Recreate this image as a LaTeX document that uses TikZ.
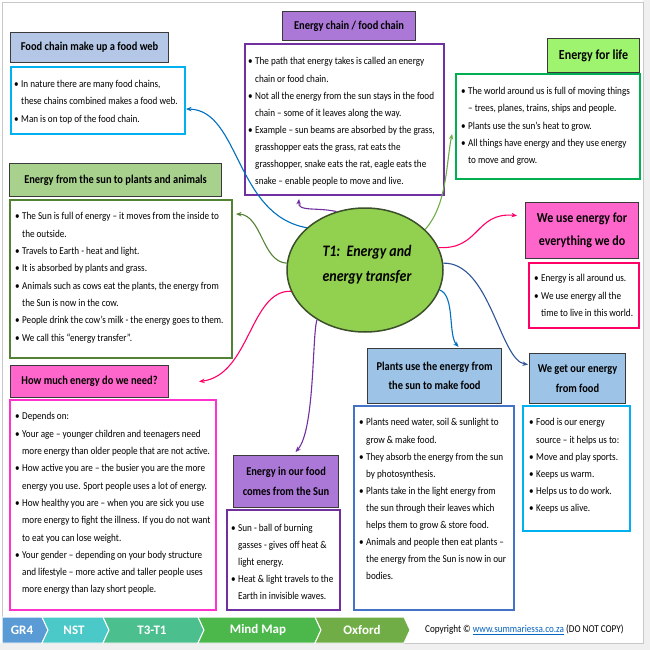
\documentclass[tikz,border=0pt]{standalone}
\usepackage{fontspec}
\setmainfont{Carlito}[FakeStretch=0.87]
\newfontfamily\footfont{Carlito}
\usetikzlibrary{arrows.meta,shapes.geometric}
\definecolor{hdrline}{HTML}{3A3A3A}
\definecolor{hblue}{HTML}{B4C7E7}
\definecolor{hblue2}{HTML}{9DC3E6}
\definecolor{hpurple}{HTML}{AC78D8}
\definecolor{hlgreen}{HTML}{9EF46E}
\definecolor{hgreen}{HTML}{A9D18E}
\definecolor{hpink}{HTML}{FF66CC}
\definecolor{cyanline}{HTML}{00B0F0}
\definecolor{purpleline}{HTML}{7030A0}
\definecolor{greenline}{HTML}{00B050}
\definecolor{dgreenline}{HTML}{548235}
\definecolor{redline}{HTML}{FF0066}
\definecolor{magline}{HTML}{FF33CC}
\definecolor{bluebox}{HTML}{4472C4}
\definecolor{cblue}{HTML}{0070C0}
\definecolor{cdblue}{HTML}{2F5597}
\definecolor{clgreen}{HTML}{70AD47}
\definecolor{elfill}{HTML}{92D050}
\definecolor{elline}{HTML}{3B4F2A}
\definecolor{fgr}{HTML}{5B9BD5}
\definecolor{fnst}{HTML}{4BC8C8}
\definecolor{ftt}{HTML}{4CBF8E}
\definecolor{fmm}{HTML}{4CB84C}
\definecolor{fox}{HTML}{70AD47}
\definecolor{framegray}{HTML}{C8C8C8}
\definecolor{stripgray}{HTML}{F0F0F0}
\definecolor{linkblue}{HTML}{0563C1}
\newlength\bind
\setlength\bind{7pt}
\newcommand\bul{\makebox[\bind][l]{\textbullet}}
\newcommand\cnt{\hspace*{\bind}}
\tikzset{
  hdr/.style={draw=hdrline, line width=1.1pt, anchor=north west, inner sep=0pt, align=center, font=\bfseries\fontsize{12}{14.5}\selectfont},
  bodybox/.style={line width=2pt, anchor=north west, inner sep=0pt, fill=white},
  txt/.style={anchor=north west, inner sep=0pt, align=left, font=\fontsize{10.5}{17.3}\selectfont},
  conn/.style={line width=1.1pt, -{Stealth[length=5.5pt,width=4.5pt]}},
  chev/.style={draw=white, line width=1pt},
  chevtxt/.style={text=white, inner sep=0pt, font=\footfont\bfseries\fontsize{13}{15}\selectfont}
}
\begin{document}
\begin{tikzpicture}[x=1pt,y=-1pt]
\useasboundingbox (0,0) rectangle (650,650);
\fill[white] (0,0) rectangle (650,650);
\fill[stripgray] (643,0) rectangle (650,650);
\fill[stripgray] (0,643) rectangle (650,650);
\draw[framegray, line width=0.8pt] (2.5,2.5) rectangle (643,643);

% ---------- headers ----------
\node[hdr, fill=hblue, minimum width=158pt, minimum height=30pt] (h1) at (10,32) {Food chain make up a food web};
\node[hdr, fill=hpurple, minimum width=133pt, minimum height=29pt] (h2) at (282,11) {Energy chain / food chain};
\node[hdr, fill=hlgreen, minimum width=92pt, minimum height=34pt, font=\bfseries\fontsize{13.8}{16}\selectfont] (h3) at (547,38) {Energy for life};
\node[hdr, fill=hgreen, minimum width=212pt, minimum height=33pt] (h4) at (9,163) {Energy from the sun to plants and animals};
\node[hdr, fill=hpink, minimum width=113pt, minimum height=56pt, font=\bfseries\fontsize{13.8}{23}\selectfont] (h6) at (525,202) {We use energy for\\everything we do};
\node[hdr, fill=hpink, minimum width=158pt, minimum height=32pt] (h7) at (10,365) {How much energy do we need?};
\node[hdr, fill=hpurple, minimum width=105pt, minimum height=52pt, font=\bfseries\fontsize{12}{20}\selectfont] (h8) at (233,455) {Energy in our food\\comes from the Sun};
\node[hdr, fill=hblue2, minimum width=134pt, minimum height=55pt, font=\bfseries\fontsize{12}{19}\selectfont] (h9) at (367,348) {Plants use the energy from\\the sun to make food};
\node[hdr, fill=hblue2, minimum width=96pt, minimum height=50pt, font=\bfseries\fontsize{12}{20}\selectfont] (h10) at (529,353) {We get our energy\\from food};

% ---------- body boxes ----------
\node[bodybox, draw=cyanline, minimum width=174pt, minimum height=67pt] (b1) at (10,66) {};
\node[bodybox, draw=purpleline, minimum width=199pt, minimum height=151pt] (b2) at (244,43) {};
\node[bodybox, draw=greenline, minimum width=184pt, minimum height=105pt] (b3) at (455,73) {};
\node[bodybox, draw=dgreenline, minimum width=222pt, minimum height=158pt] (b4) at (9,199) {};
\node[bodybox, draw=redline, minimum width=110pt, minimum height=65pt] (b6) at (528,262) {};
\node[bodybox, draw=magline, minimum width=206pt, minimum height=210pt] (b7) at (9,399) {};
\node[bodybox, draw=purpleline, minimum width=113pt, minimum height=100pt] (b8) at (226,509) {};
\node[bodybox, draw=bluebox, minimum width=160pt, minimum height=204pt] (b9) at (353,405) {};
\node[bodybox, draw=cyanline, minimum width=107pt, minimum height=125pt] (b10) at (522,405) {};

% ---------- body texts ----------
\node[txt] (t1) at (14,80) {%
\bul In nature there are many food chains,\\
\cnt these chains combined makes a food web.\\
\bul Man is on top of the food chain.};
\node[txt, font=\fontsize{10.5}{17.1}\selectfont] (t2) at (248,57.5) {%
\bul The path that energy takes is called an energy\\
\cnt chain or food chain.\\
\bul Not all the energy from the sun stays in the food\\
\cnt chain – some of it leaves along the way.\\
\bul Example – sun beams are absorbed by the grass,\\
\cnt grasshopper eats the grass, rat eats the\\
\cnt grasshopper, snake eats the rat, eagle eats the\\
\cnt snake – enable people to move and live.};
\node[txt] (t3) at (461,87) {%
\bul The world around us is full of moving things\\
\cnt – trees, planes, trains, ships and people.\\
\bul Plants use the sun’s heat to grow.\\
\bul All things have energy and they use energy\\
\cnt to move and grow.};
\node[txt] (t4) at (15,212.5) {%
\bul The Sun is full of energy – it moves from the inside to\\
\cnt the outside.\\
\bul Travels to Earth - heat and light.\\
\bul It is absorbed by plants and grass.\\
\bul Animals such as cows eat the plants, the energy from\\
\cnt the Sun is now in the cow.\\
\bul People drink the cow’s milk - the energy goes to them.\\
\bul We call this “energy transfer”.};
\node[txt] (t6) at (534,274.5) {%
\bul Energy is all around us.\\
\bul We use energy all the\\
\cnt time to live in this world.};
\node[txt] (t7) at (15,412.5) {%
\bul Depends on:\\
\bul Your age – younger children and teenagers need\\
\cnt more energy than older people that are not active.\\
\bul How active you are – the busier you are the more\\
\cnt energy you use. Sport people uses a lot of energy.\\
\bul How healthy you are – when you are sick you use\\
\cnt more energy to fight the illness. If you do not want\\
\cnt to eat you can lose weight.\\
\bul Your gender – depending on your body structure\\
\cnt and lifestyle – more active and taller people uses\\
\cnt more energy than lazy short people.};
\node[txt, font=\fontsize{10.5}{16.8}\selectfont] (t8) at (231,524.5) {%
\bul Sun - ball of burning\\
\cnt gasses - gives off heat \&\\
\cnt light energy.\\
\bul Heat \& light travels to the\\
\cnt Earth in invisible waves.};
\node[txt, font=\fontsize{10.5}{17.1}\selectfont] (t9) at (359,418.5) {%
\bul Plants need water, soil \& sunlight to\\
\cnt grow \& make food.\\
\bul They absorb the energy from the sun\\
\cnt by photosynthesis.\\
\bul Plants take in the light energy from\\
\cnt the sun through their leaves which\\
\cnt helps them to grow \& store food.\\
\bul Animals and people then eat plants –\\
\cnt the energy from the Sun is now in our\\
\cnt bodies.};
\node[txt, font=\fontsize{10.5}{17.1}\selectfont] (t10) at (529,418.5) {%
\bul Food is our energy\\
\cnt source – it helps us to:\\
\bul Move and play sports.\\
\bul Keeps us warm.\\
\bul Helps us to do work.\\
\bul Keeps us alive.};

% ---------- centre ----------
\node[ellipse, draw=elline, line width=1.5pt, fill=elfill, minimum width=156pt, minimum height=124pt, inner sep=0pt] (ell) at (365,270) {};
\node[align=center, inner sep=0pt, font=\bfseries\itshape\fontsize{16}{25}\selectfont] (elltxt) at (367,265) {T1:\ \ Energy and\\energy transfer};

% ---------- connectors ----------
\draw[conn, cblue] (ell.144) .. controls (235,215) and (240,110) .. ([yshift=-8.5pt]b1.east);
\draw[conn, purpleline] (ell.116) .. controls (315,207) and (298,212) .. ([xshift=-45.5pt,yshift=-3pt]b2.south);
\draw[conn, clgreen] (ell.34) .. controls (447,205) and (446,165) .. ([xshift=-3pt,yshift=-7.5pt]b3.west);
\draw[conn, dgreenline] (ell.175) .. controls (262,262) and (262,215) .. ([xshift=3pt,yshift=65pt]b4.east);
\draw[conn, redline] (ell.17) .. controls (480,250) and (475,212) .. ([xshift=-8pt,yshift=15pt]h6.west);
\draw[conn, cdblue] (ell.5) .. controls (490,262) and (500,360) .. ([xshift=-1pt,yshift=14pt]h10.west);
\draw[conn, cblue] (ell.-15) .. controls (455,295) and (448,335) .. ([xshift=24pt,yshift=1pt]h9.north);
\draw[conn, redline] (ell.196) .. controls (250,290) and (250,375) .. ([xshift=30pt]h7.east);
\draw[conn, purpleline] (ell.226) .. controls (312,335) and (315,430) .. ([xshift=9.5pt,yshift=3pt]h8.north);

% ---------- footer ----------
\filldraw[chev, fill=fgr] (2,617) -- (42,617) -- (48,630) -- (42,643) -- (2,643) -- cycle;
\filldraw[chev, fill=fnst] (42,617) -- (103,617) -- (109,630) -- (103,643) -- (42,643) -- (48,630) -- cycle;
\filldraw[chev, fill=ftt] (103,617) -- (198,617) -- (204,630) -- (198,643) -- (103,643) -- (109,630) -- cycle;
\filldraw[chev, fill=fmm] (198,617) -- (315,617) -- (321,630) -- (315,643) -- (198,643) -- (204,630) -- cycle;
\filldraw[chev, fill=fox] (315,617) -- (404,617) -- (410,630) -- (404,643) -- (315,643) -- (321,630) -- cycle;
\node[chevtxt] (f1) at (22,630) {GR4};
\node[chevtxt] (f2) at (74,630) {NST};
\node[chevtxt] (f3) at (152,630) {T3-T1};
\node[chevtxt] (f4) at (258,630) {Mind Map};
\node[chevtxt] (f5) at (362,630) {Oxford};
\node[anchor=west, inner sep=0pt, font=\fontsize{10.5}{12}\selectfont] (copy) at (425,630) {Copyright © \textcolor{linkblue}{\underline{www.summariessa.co.za}} (DO NOT COPY)};
\end{tikzpicture}
\end{document}
